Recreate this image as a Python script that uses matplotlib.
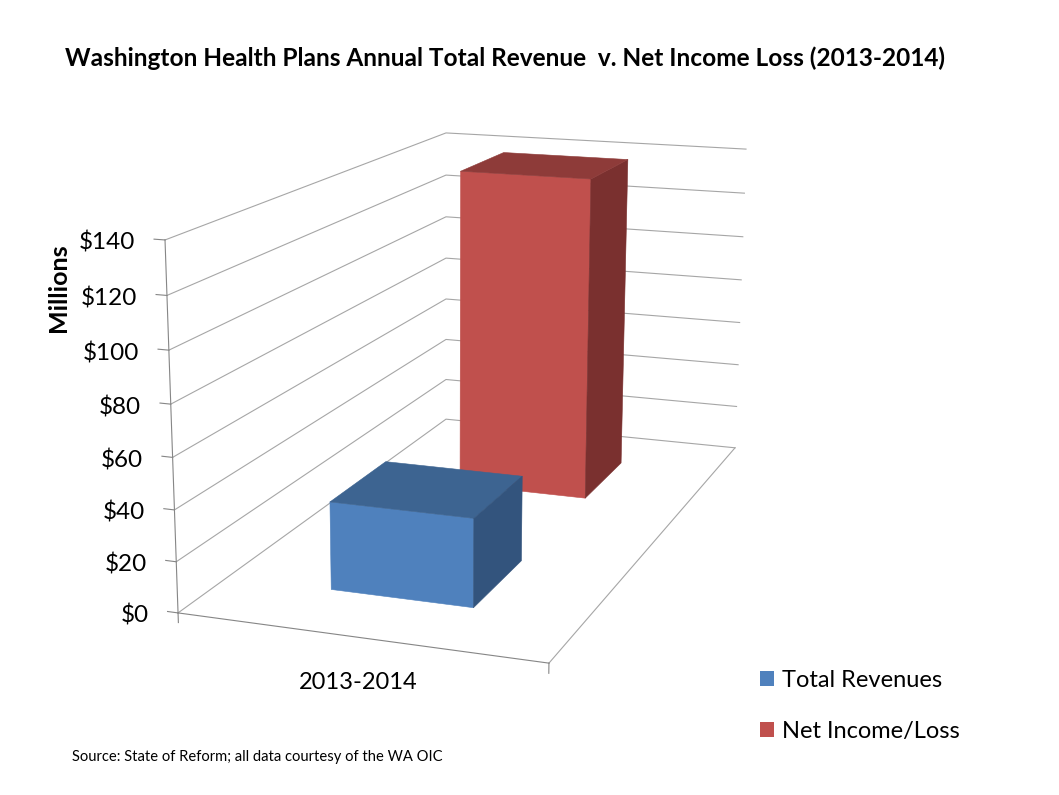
import numpy as np
import matplotlib
matplotlib.use('Agg')
import matplotlib.pyplot as plt
from matplotlib.patches import Patch
from mpl_toolkits.mplot3d import Axes3D  # noqa: F401

# ---- data ----
title = 'Washington Health Plans Annual Total Revenue  v. Net Income Loss (2013-2014)'
category = '2013-2014'
series_names = ['Total Revenues', 'Net Income/Loss']
series_values = [35, 139]
y_ticks = [0, 20, 40, 60, 80, 100, 120, 140]
y_tick_labels = ['$0', '$20', '$40', '$60', '$80', '$100', '$120', '$140']
y_label = 'Millions'
source = 'Source: State of Reform; all data courtesy of the WA OIC'

# ---- style ----
W, H = 1059, 795
plt.rcParams['font.family'] = ['Lato', 'DejaVu Sans']
front = ['#4F81BD', '#C0504D']
top = ['#3D6491', '#8E3B39']
side = ['#33547D', '#7A302F']
grid_c = '#A6A6A6'
axis_c = '#868686'
none = (0, 0, 0, 0)
depth_span = [(0.15, 0.348), (0.654, 0.852)]
width_span = (0.30, 0.70)

# ---- camera: a perspective fitted to the corners of the chart box ----
box = [(0, 0, 0), (1, 0, 0), (1, 1, 0), (0, 1, 0), (0, 0, 140), (0, 1, 140), (1, 1, 140)]
screen = [(178, 613), (549, 663), (735, 448), (446, 419), (165, 240), (446, 133), (746, 149)]
A, b = [], []
for (x, y, z), (u, v) in zip(box, screen):
    A.append([x, y, z, 1, 0, 0, 0, 0, -u * x, -u * y, -u * z]); b.append(u)
    A.append([0, 0, 0, 0, x, y, z, 1, -v * x, -v * y, -v * z]); b.append(v)
p = np.linalg.lstsq(np.array(A, float), np.array(b, float), rcond=None)[0]
cam = np.append(p, 1).reshape(3, 4)
to_unit = np.array([[2 / W, 0, -1], [0, -2 / H, 1], [0, 0, 1]])
cam_unit = to_unit @ cam
M = np.vstack([cam_unit[0], cam_unit[1], [0, -0.5, 0, -0.1], cam_unit[2]])


def project(x, y, z):
    q = cam @ np.array([x, y, z, 1.0])
    return q[0] / q[2], q[1] / q[2]


fig = plt.figure(figsize=(W / 100, H / 100), dpi=100, facecolor='white')
ax = fig.add_axes([0, 0, 1, 1], projection='3d')
ax.set_axis_off()
ax.computed_zorder = False
ax.apply_aspect = lambda position=None: None
ax.get_proj = lambda: M
ax.viewLim.intervalx = (-1, 1)
ax.viewLim.intervaly = (-1, 1)

# walls and floor
ymax = y_ticks[-1]
for t in y_ticks:
    ax.plot([0, 0, 1], [0, 1, 1], [t, t, t], color=grid_c, lw=0.8, zorder=1)
    ax.plot([-0.03, 0], [0, 0], [t, t], color=axis_c, lw=0.8, zorder=1)
ax.plot([1, 1], [1, 0], [0, 0], color=grid_c, lw=0.8, zorder=1)
ax.plot([0, 0], [0, 0], [0, ymax], color=axis_c, lw=0.8, zorder=1)
ax.plot([0, 1], [0, 0], [0, 0], color=axis_c, lw=0.8, zorder=1)
for xe in (0, 1):
    ax.plot([xe, xe], [0, 0], [0, -3.8], color=axis_c, lw=0.8, zorder=1)

# bars (back one first)
for i in (1, 0):
    y0, y1 = depth_span[i]
    # faces: bottom, top, front, back, left, right
    faces = [none, top[i], front[i], none, none, side[i]]
    ax.bar3d(width_span[0], y0, 0, width_span[1] - width_span[0], y1 - y0, series_values[i],
             color=faces, edgecolor=faces, linewidth=0.4, shade=False, zorder=3 - i)

# texts
cu, cv = project(0.5, 0, 0)
fig.text(cu / W, 1 - (cv + 45) / H, category, ha='center', va='center', fontsize=17, color='black')
for t, lab in zip(y_ticks, y_tick_labels):
    tu, tv = project(0, 0, t)
    fig.text((tu - 29.5) / W, 1 - (tv + 3) / H, lab, ha='right', va='center', fontsize=17.5, color='black')
fig.text(59 / W, 1 - 288 / H, y_label, rotation=90, ha='center', va='center', fontsize=18, fontweight='bold')
fig.text(505 / W, 1 - 58 / H, title, ha='center', va='center', fontsize=17.6, fontweight='bold')
fig.text(72 / W, 1 - 757 / H, source, ha='left', va='center', fontsize=10.6)

handles = [Patch(facecolor=c, edgecolor='none') for c in front]
fig.legend(handles, series_names, loc='upper left', bbox_to_anchor=(753 / W, 1 - 663 / H),
           frameon=False, fontsize=17, handlelength=0.6, handleheight=0.6,
           handletextpad=0.34, labelspacing=1.25, borderpad=0.3, borderaxespad=0)

fig.savefig('out.png', dpi=100, facecolor='white')
